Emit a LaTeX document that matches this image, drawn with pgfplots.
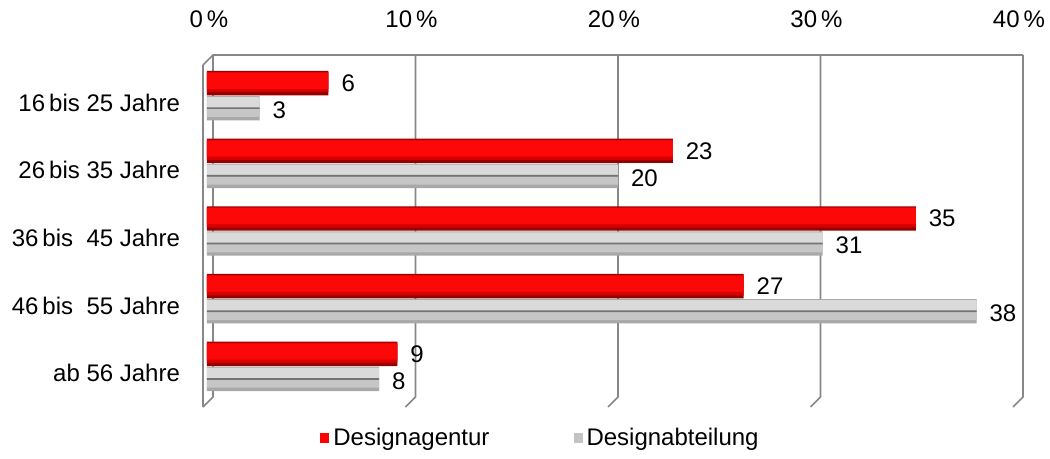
\documentclass[border=0pt]{standalone}
\usepackage{fontspec}
\setmainfont{Liberation Sans}
\usepackage{pgfplots}
\pgfplotsset{compat=1.18}
\definecolor{gridgray}{RGB}{135,135,135}
\definecolor{redbase}{RGB}{150,0,0}
\definecolor{redmid}{RGB}{215,0,0}
\definecolor{redmain}{RGB}{252,8,8}
\definecolor{graybase}{RGB}{168,168,168}
\definecolor{graytop}{RGB}{218,218,218}
\definecolor{graylow}{RGB}{198,198,198}
\definecolor{grayline}{RGB}{115,115,115}
\definecolor{leggray}{RGB}{195,195,195}
\begin{document}
\begin{tikzpicture}[font=\fontsize{12}{14}\selectfont]
\path[use as bounding box] (-103.5pt,-26pt) rectangle (421.5pt,203.5pt);
\begin{axis}[
  at={(0,0)}, anchor=south west,
  scale only axis, width=405pt, height=176pt,
  xmin=0, xmax=40, ymin=-0.6, ymax=4.6, y dir=reverse,
  axis line style={draw=none}, major tick length=0pt,
  clip=false,
  xtick={0,10,20,30,40},
  xticklabel pos=upper,
  xticklabel={\pgfmathprintnumber{\tick}\,\%},
  xticklabel style={yshift=10pt, xshift=1pt},
  ytick={0,1,2,3,4},
  yticklabels={16\,bis 25 Jahre, 26\,bis 35 Jahre, 36\,bis\ \ 45 Jahre, 46\,bis\ \ 55 Jahre, ab 56 Jahre},
  yticklabel style={xshift=-10pt, yshift=-3.5pt},
  /pgf/number format/assume math mode=true,
  tick label style={font=\fontsize{12}{14}\selectfont},
  xbar,
  nodes near coords style={font=\fontsize{12}{14}\selectfont, anchor=west, xshift=3pt},
  legend style={at={(axis description cs:0.413,-0.088)}, anchor=center, draw=none, fill=none,
    legend columns=2, font=\fontsize{12}{14}\selectfont,
    /tikz/every even column/.append style={column sep=40pt}},
  legend image code/.code={\fill[#1] (0pt,-2.5pt) rectangle (4.5pt,2.5pt);},
]
% 3D frame and grid
\draw[gridgray, line width=0.8pt] ([xshift=-2pt,yshift=-5pt]axis cs:0,-0.6) -- ([xshift=3pt]axis cs:0,-0.6) -- ([xshift=3pt]axis cs:40,-0.6);
\draw[gridgray, line width=0.8pt] ([xshift=-2pt,yshift=-5pt]axis cs:0,-0.6) -- ([xshift=-2pt]axis cs:0,4.6);
\draw[gridgray, line width=0.8pt] ([xshift=3pt]axis cs:0,-0.6) -- ([xshift=3pt,yshift=5pt]axis cs:0,4.6) -- ([xshift=-2pt]axis cs:0,4.6);
\draw[gridgray, line width=0.8pt] ([xshift=3pt]axis cs:10,-0.6) -- ([xshift=3pt,yshift=5pt]axis cs:10,4.6) -- ([xshift=-2pt]axis cs:10,4.6);
\draw[gridgray, line width=0.8pt] ([xshift=3pt]axis cs:20,-0.6) -- ([xshift=3pt,yshift=5pt]axis cs:20,4.6) -- ([xshift=-2pt]axis cs:20,4.6);
\draw[gridgray, line width=0.8pt] ([xshift=3pt]axis cs:30,-0.6) -- ([xshift=3pt,yshift=5pt]axis cs:30,4.6) -- ([xshift=-2pt]axis cs:30,4.6);
\draw[gridgray, line width=0.8pt] ([xshift=3pt]axis cs:40,-0.6) -- ([xshift=3pt,yshift=5pt]axis cs:40,4.6) -- ([xshift=-2pt]axis cs:40,4.6);

\addlegendimage{fill=red, draw=none}
\addlegendentry{Designagentur}
\addlegendimage{fill=leggray, draw=none}
\addlegendentry{Designabteilung}

% Designagentur: dark edge, mid tone, bright body
\addplot[forget plot, draw=none, fill=redbase, bar width=0.36, bar shift=-0.185,
  point meta=explicit symbolic, nodes near coords]
  coordinates {(6,0) [6] (23,1) [23] (35,2) [35] (26.5,3) [27] (9.4,4) [9]};
\addplot[forget plot, draw=none, fill=redmid, bar width=0.30, bar shift=-0.20]
  coordinates {(6,0) (23,1) (35,2) (26.5,3) (9.4,4)};
\addplot[forget plot, draw=none, fill=redmain, bar width=0.24, bar shift=-0.22]
  coordinates {(6,0) (23,1) (35,2) (26.5,3) (9.4,4)};
% Designabteilung: base, light upper half, lower half, centre line
\addplot[forget plot, draw=none, fill=graybase, bar width=0.36, bar shift=0.185,
  point meta=explicit symbolic, nodes near coords, nodes near coords style={yshift=-1pt}]
  coordinates {(2.6,0) [3] (20.3,1) [20] (30.4,2) [31] (38,3) [38] (8.5,4) [8]};
\addplot[forget plot, draw=none, fill=graytop, bar width=0.16, bar shift=0.10]
  coordinates {(2.6,0) (20.3,1) (30.4,2) (38,3) (8.5,4)};
\addplot[forget plot, draw=none, fill=graylow, bar width=0.12, bar shift=0.255]
  coordinates {(2.6,0) (20.3,1) (30.4,2) (38,3) (8.5,4)};
\addplot[forget plot, draw=none, fill=grayline, bar width=0.025, bar shift=0.185]
  coordinates {(2.6,0) (20.3,1) (30.4,2) (38,3) (8.5,4)};
\end{axis}
\end{tikzpicture}
\end{document}
